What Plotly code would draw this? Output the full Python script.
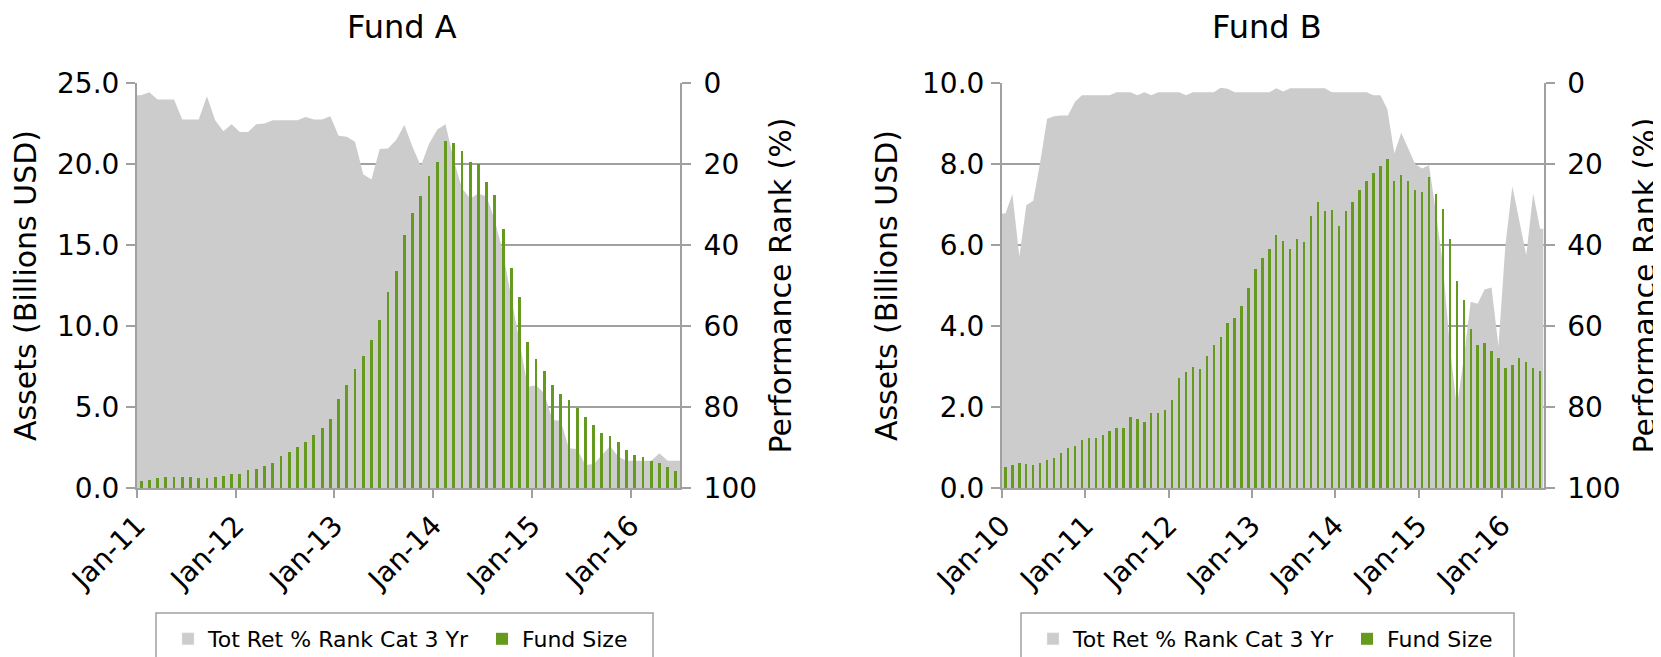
import plotly.graph_objects as go

# -----------------------------------------------------
# 데이터 (월별, 그림에서 읽은 값)
# -----------------------------------------------------
W, H = 1661, 657

# Fund A: Jan-11 .. Jun-16, 자산(십억 USD) / 3년 순위(%)
fund_a_size = [0.45, 0.51, 0.64, 0.70, 0.70, 0.70, 0.70, 0.64, 0.64, 0.70,
               0.76, 0.84, 0.88, 1.10, 1.20, 1.38, 1.56, 1.97, 2.20, 2.55,
               2.81, 3.25, 3.68, 4.27, 5.50, 6.37, 7.33, 8.15, 9.12, 10.4,
               12.1, 13.4, 15.6, 16.95, 18.0, 19.25, 20.1, 21.4, 21.3, 20.8,
               20.1, 20.0, 18.9, 18.1, 16.0, 13.6, 11.8, 9.04, 7.95, 7.23,
               6.37, 5.83, 5.44, 4.93, 4.38, 3.88, 3.39, 3.18, 2.81, 2.34,
               2.05, 1.89, 1.68, 1.52, 1.31, 1.07]
fund_a_rank = [3.0, 2.3, 4.1, 4.1, 4.1, 9.0, 9.0, 9.0, 3.3, 9.2,
               11.9, 10.2, 12.1, 12.1, 10.2, 10.0, 9.2, 9.2, 9.2, 9.2,
               8.4, 9.0, 9.0, 8.2, 13.0, 13.3, 14.5, 22.5, 23.8, 16.3,
               16.2, 14.1, 10.4, 15.8, 20.5, 15.0, 11.5, 10.2, 19.0, 26.0,
               28.5, 27.3, 28.0, 34.0, 42.0, 53.0, 65.0, 75.0, 74.6, 76.6,
               83.2, 83.4, 90.2, 90.4, 94.3, 94.1, 91.9, 89.6, 92.3, 93.3,
               93.3, 93.3, 93.3, 91.4, 93.3, 93.3]
fund_a_ticks = ['Jan-11', 'Jan-12', 'Jan-13', 'Jan-14', 'Jan-15', 'Jan-16']

# Fund B: Jan-10 .. Jun-16
fund_b_size = [0.53, 0.56, 0.62, 0.59, 0.58, 0.61, 0.70, 0.73, 0.87, 0.98,
               1.04, 1.19, 1.24, 1.24, 1.30, 1.41, 1.48, 1.47, 1.75, 1.71,
               1.63, 1.86, 1.84, 1.92, 2.18, 2.71, 2.87, 3.00, 2.93, 3.26,
               3.53, 3.73, 4.08, 4.20, 4.50, 4.93, 5.41, 5.67, 5.90, 6.24,
               6.10, 5.90, 6.16, 6.07, 6.72, 7.05, 6.85, 6.86, 6.47, 6.83,
               7.06, 7.35, 7.58, 7.77, 7.96, 8.13, 7.58, 7.74, 7.58, 7.36,
               7.30, 7.67, 7.26, 6.89, 6.14, 5.10, 4.65, 3.92, 3.53, 3.57,
               3.38, 3.20, 2.97, 3.04, 3.21, 3.11, 2.97, 2.89]
fund_b_rank = [32.2, 27.4, 42.9, 30.2, 29.1, 19.5, 8.8, 8.2, 8.0, 8.0,
               4.7, 3.0, 3.0, 3.0, 3.0, 3.0, 2.3, 2.3, 2.3, 3.0,
               2.3, 3.0, 2.3, 2.3, 2.3, 2.3, 3.0, 2.3, 2.3, 2.3,
               2.3, 1.2, 1.4, 2.3, 2.3, 2.3, 2.3, 2.3, 2.3, 1.3,
               2.1, 1.3, 1.3, 1.3, 1.3, 1.3, 1.3, 2.3, 2.3, 2.3,
               2.3, 2.3, 2.3, 3.0, 3.0, 6.5, 17.4, 12.3, 16.2, 20.0,
               21.1, 20.3, 32.0, 45.0, 65.0, 80.0, 68.0, 54.0, 54.5, 51.0,
               50.5, 65.0, 40.0, 25.5, 34.0, 42.5, 27.3, 36.0]
fund_b_ticks = ['Jan-10', 'Jan-11', 'Jan-12', 'Jan-13', 'Jan-14', 'Jan-15', 'Jan-16']

rank_ticks = [0, 20, 40, 60, 80, 100]
rank_label = 'Tot Ret % Rank Cat 3 Yr'
size_label = 'Fund Size'

GREEN = '#669A1E'
AREA = '#CCCCCC'
AXIS = '#A0A0A0'
FONT = 'DejaVu Sans'
OFF = 8  # 페이지 body 여백


def fx(p):
    return (p - OFF) / W


def fy(p):
    return 1 - (p - OFF) / H


def add_panel(fig, xa, ya_rank, ya_size, legend, sizes, ranks):
    """순위 영역(뒤) + 펀드 규모 막대(앞)"""
    n = len(sizes)
    idx = list(range(n))
    # 엑셀처럼 영역을 플롯 양끝까지 늘림 (첫/끝 값 반복)
    ax = [-0.5] + idx + [n - 0.5]
    ay = [ranks[0]] + ranks + [ranks[-1]]
    fig.add_trace(go.Scatter(x=[-0.5, n - 0.5], y=[100, 100], mode='lines', line=dict(width=0),
                             hoverinfo='skip', showlegend=False, xaxis=xa, yaxis=ya_rank))
    fig.add_trace(go.Scatter(x=ax, y=ay, mode='lines', line=dict(width=0, color=AREA),
                             fill='tonexty', fillcolor=AREA, name=rank_label, showlegend=False,
                             xaxis=xa, yaxis=ya_rank))
    # 범례용 (사각형 심볼)
    fig.add_trace(go.Bar(x=[None], y=[None], name=rank_label, marker_color=AREA,
                         legend=legend, xaxis=xa, yaxis=ya_rank))
    fig.add_trace(go.Bar(x=idx, y=sizes, width=0.34, name=size_label,
                         marker=dict(color=GREEN, line_width=0),
                         legend=legend, xaxis=xa, yaxis=ya_size))


def axes(n, ticks, size_max, left, right, rank_id, x_id):
    tick_font = dict(family=FONT, size=28, color='black')
    title_font = dict(family=FONT, size=30, color='black')
    common = dict(showline=True, linecolor=AXIS, linewidth=2, ticks='outside', tickcolor=AXIS,
                  tickwidth=2, zeroline=False, tickfont=tick_font, automargin=False)
    xaxis = dict(common, domain=[fx(left), fx(right)], range=[-0.5, n - 0.5], anchor=rank_id,
                 tickvals=[12 * k - 0.5 for k in range(len(ticks))], ticktext=ticks,
                 tickangle=-45, ticklen=8, showgrid=False, tickfont=dict(tick_font, size=28))
    yrank = dict(common, domain=[fy(488), fy(83)], range=[100, 0], side='right', anchor=x_id,
                 tickvals=rank_ticks, ticklen=9, showgrid=True, gridcolor=AXIS, gridwidth=2,
                 ticklabelstandoff=7,
                 title=dict(text='Performance Rank (%)', font=title_font, standoff=14))
    ysize = dict(common, overlaying=rank_id, side='left', anchor=x_id, range=[0, size_max],
                 tickvals=[size_max / 5 * k for k in range(6)], tickformat='.1f', ticklen=9,
                 showgrid=False, ticklabelstandoff=1,
                 title=dict(text='Assets (Billions USD)', font=title_font, standoff=16))
    return xaxis, yrank, ysize


fig = go.Figure()
add_panel(fig, 'x', 'y', 'y2', 'legend', fund_a_size, fund_a_rank)
add_panel(fig, 'x2', 'y3', 'y4', 'legend2', fund_b_size, fund_b_rank)

xa, ya1, ya2 = axes(len(fund_a_size), fund_a_ticks, 25.0, 137, 680, 'y', 'x')
xb, yb1, yb2 = axes(len(fund_b_size), fund_b_ticks, 10.0, 1002, 1543.6, 'y3', 'x2')

leg_font = dict(family=FONT, size=22, color='black')
leg = dict(orientation='h', xanchor='left', yanchor='top', y=fy(618), font=leg_font,
           bgcolor='rgba(0,0,0,0)', borderwidth=0, entrywidth=269, entrywidthmode='pixels',
           traceorder='normal')

frame = dict(type='rect', xref='paper', yref='paper', y0=-0.2, y1=fy(613),
             line=dict(color=AXIS, width=1.5), fillcolor='white', layer='above')

title_style = dict(xref='paper', yref='paper', showarrow=False, xanchor='center', yanchor='middle',
                   font=dict(family=FONT, size=32, color='black'))

fig.update_layout(
    width=W, height=H, margin=dict(l=0, r=0, t=0, b=0, autoexpand=False),
    paper_bgcolor='white', plot_bgcolor='white',
    barmode='overlay', bargap=0, font=dict(family=FONT, color='black'),
    xaxis=xa, yaxis=ya1, yaxis2=ya2,
    xaxis2=xb, yaxis3=yb1, yaxis4=yb2,
    legend=dict(leg, x=fx(168)),
    legend2=dict(leg, x=fx(1033)),
    shapes=[dict(frame, x0=fx(156), x1=fx(653)), dict(frame, x0=fx(1021), x1=fx(1514))],
    annotations=[
        dict(title_style, text='Fund A', x=fx(402), y=fy(27)),
        dict(title_style, text='Fund B', x=fx(1267), y=fy(27)),
    ],
)

fig.write_html("out.html")
